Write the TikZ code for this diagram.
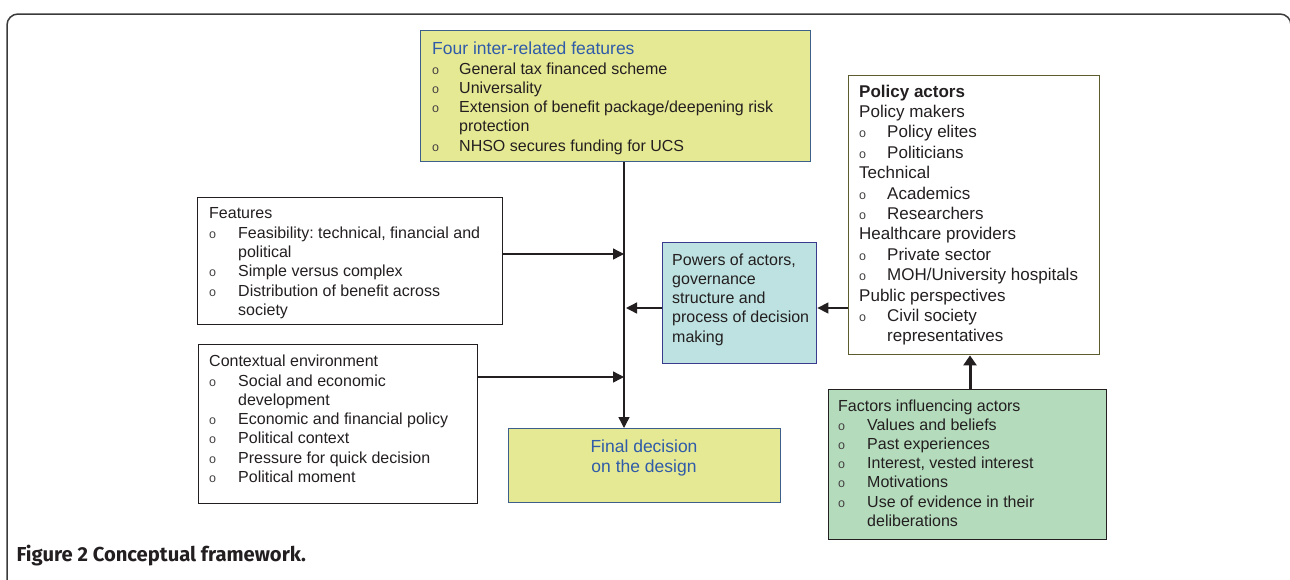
\documentclass[tikz,border=0pt]{standalone}
\usepackage{fontspec}
\setmainfont{Liberation Sans}
\newfontfamily\capfont{Fira Sans}
\usetikzlibrary{arrows.meta}
\frenchspacing
\definecolor{txt}{HTML}{231F20}
\definecolor{yel}{RGB}{230,233,148}
\definecolor{yelbd}{HTML}{3D5F8C}
\definecolor{bluetxt}{HTML}{2F5BA8}
\definecolor{powfill}{RGB}{190,226,225}
\definecolor{powbd}{HTML}{3A3A8E}
\definecolor{facfill}{RGB}{180,219,188}
\definecolor{polbd}{HTML}{5C5C2E}
\definecolor{framec}{HTML}{3A3A3A}
\newcommand\bl[1][28pt]{\makebox[#1][l]{\fontsize{12.5}{12}\selectfont\color{txt!85}o}}
\newcommand\hd[1]{\multicolumn{2}{@{}l@{}}{#1}}
\begin{document}
\begin{tikzpicture}[x=1pt,y=-1pt,
  box/.style={draw=txt, line width=1.4pt, inner sep=0pt, anchor=north west},
  lbl/.style={anchor=base west, inner sep=0pt, text=txt, font=\fontsize{16}{19.3}\selectfont},
  arr/.style={-{Triangle[length=11pt,width=11pt]}, line width=1.4pt, draw=txt}
]
\useasboundingbox (0,0) rectangle (1290,579);
% outer frame
\draw[framec, line width=1.5pt, rounded corners=11pt] (7,590) -- (7,14) -- (1291,14) -- (1291,590);

% boxes
\node[box, fill=yel, draw=yelbd, minimum width=390, minimum height=131] (four) at (420,30) {};
\node[box, minimum width=305, minimum height=127] (feat) at (197,197) {};
\node[box, minimum width=279, minimum height=159] (ctx) at (198,344) {};
\node[box, fill=powfill, draw=powbd, minimum width=154, minimum height=121] (pow) at (662,242) {};
\node[box, draw=polbd, minimum width=251, minimum height=279] (pol) at (848,75) {};
\node[box, fill=facfill, minimum width=278, minimum height=150] (fac) at (828,389) {};
\node[box, fill=yel, draw=yelbd, minimum width=272, minimum height=74] (fin) at (508,428) {};

% texts
\node[lbl, font=\fontsize{16}{19.1}\selectfont] (fourtxt) at (432,54.6) {\begin{tabular}[t]{@{}l@{}l@{}}
\hd{\fontsize{17.5}{19.1}\selectfont\color{bluetxt}Four inter-related features}\\[0.9pt]
\bl[27pt] & General tax financed scheme\\
\bl[27pt] & Universality\\
\bl[27pt] & Extension of benefit package/deepening risk\\
 & protection\\
\bl[27pt] & NHSO secures funding for UCS
\end{tabular}};

\node[lbl] (feattxt) at (209,218.8) {\begin{tabular}[t]{@{}l@{}l@{}}
\hd{Features}\\
\bl[29pt] & Feasibility: technical, financial and\\
 & political\\
\bl[29pt] & Simple versus complex\\
\bl[29pt] & Distribution of benefit across\\
 & society
\end{tabular}};

\node[lbl] (ctxtxt) at (209,366.7) {\begin{tabular}[t]{@{}l@{}l@{}}
\hd{Contextual environment}\\
\bl[29pt] & Social and economic\\
 & development\\
\bl[29pt] & Economic and financial policy\\
\bl[29pt] & Political context\\
\bl[29pt] & Pressure for quick decision\\
\bl[29pt] & Political moment
\end{tabular}};

\node[lbl] (powtxt) at (672,265) {\begin{tabular}[t]{@{}l@{}}
Powers of actors,\\
governance\\
structure and\\
process of decision\\
making
\end{tabular}};

\node[lbl, font=\fontsize{17}{20.4}\selectfont] (poltxt) at (859,97) {\begin{tabular}[t]{@{}l@{}l@{}}
\hd{\bfseries Policy actors}\\
\hd{Policy makers}\\
\bl & Policy elites\\
\bl & Politicians\\
\hd{Technical}\\
\bl & Academics\\
\bl & Researchers\\
\hd{Healthcare providers}\\
\bl & Private sector\\
\bl & MOH/University hospitals\\
\hd{Public perspectives}\\
\bl & Civil society\\
 & representatives
\end{tabular}};

\node[lbl, font=\fontsize{16}{19.2}\selectfont] (factxt) at (838,411) {\begin{tabular}[t]{@{}l@{}l@{}}
\hd{Factors influencing actors}\\
\bl[29pt] & Values and beliefs\\
\bl[29pt] & Past experiences\\
\bl[29pt] & Interest, vested interest\\
\bl[29pt] & Motivations\\
\bl[29pt] & Use of evidence in their\\
 & deliberations
\end{tabular}};

\node[anchor=base, inner sep=0pt, text=bluetxt, font=\fontsize{17.5}{20}\selectfont, align=center] (fintxt) at (644,472) {Final decision\\on the design};

\node[anchor=base west, inner sep=0pt, text=txt, font=\capfont\bfseries\fontsize{20.2}{22}\selectfont] (cap) at (16.5,561.7) {Figure 2 Conceptual framework.};

% connectors
\coordinate (spine) at (624,0);
\coordinate (j1) at (624,254);
\coordinate (j2) at (624,377);
\coordinate (p1) at (626,308);
\coordinate (q) at (970,0);
\draw[arr] (four.south -| spine) -- (fin.north -| spine);
\draw[arr] (feat.east |- j1) -- (j1);
\draw[arr] (ctx.east |- j2) -- (j2);
\draw[arr] (pow.west |- p1) -- (p1);
\draw[arr] (pol.west |- p1) -- (pow.east |- p1);
\draw[-{Triangle[length=10pt,width=13pt]}, line width=3pt, draw=txt] (fac.north -| q) -- (pol.south -| q);
\end{tikzpicture}
\end{document}
